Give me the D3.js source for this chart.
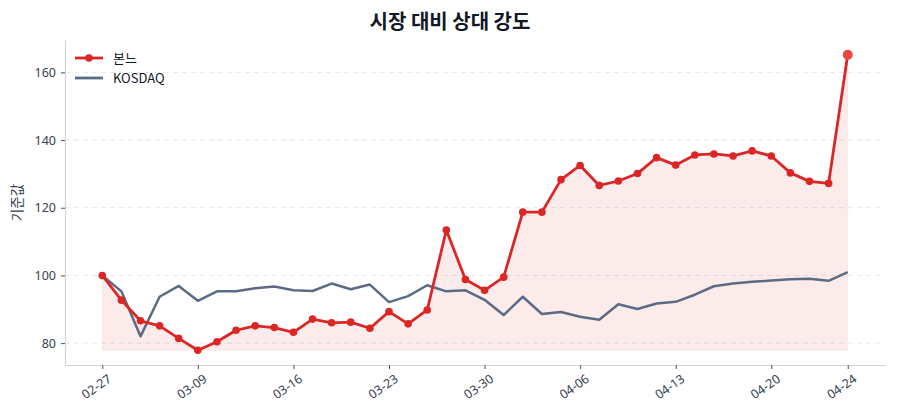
<!DOCTYPE html>
<html>
<head>
<meta charset="utf-8">
<script src="https://cdn.jsdelivr.net/npm/d3@7"></script>
<style>
  body { margin: 0; background: #fff; }
  svg { font-family: "Noto Sans CJK KR", "Noto Sans", sans-serif; }
</style>
</head>
<body>
<svg id="chart" width="900" height="420"></svg>
<script>
// trading days (MM-DD)
var dates = ["02-27","03-03","03-04","03-05","03-06","03-09","03-10","03-11","03-12","03-13",
  "03-16","03-17","03-18","03-19","03-20","03-23","03-24","03-25","03-26","03-27",
  "03-30","03-31","04-01","04-02","04-03","04-06","04-07","04-08","04-09","04-10",
  "04-13","04-14","04-15","04-16","04-17","04-20","04-21","04-22","04-23","04-24"];

var stockName = "본느";
var stockValues = [100, 92.7, 86.6, 85.1, 81.4, 77.9, 80.4, 83.8, 85.1, 84.6,
  83.2, 87.1, 86.0, 86.2, 84.4, 89.3, 85.7, 89.8, 113.4, 98.8,
  95.6, 99.5, 118.7, 118.7, 128.3, 132.5, 126.6, 127.9, 130.1, 134.8,
  132.6, 135.6, 135.9, 135.3, 136.8, 135.3, 130.3, 127.8, 127.2, 165.2];

var indexName = "KOSDAQ";
var indexValues = [100, 95.3, 82.0, 93.7, 96.9, 92.5, 95.3, 95.3, 96.2, 96.7,
  95.6, 95.4, 97.6, 95.9, 97.3, 92.1, 93.9, 97.1, 95.3, 95.6,
  92.8, 88.3, 93.7, 88.6, 89.2, 87.8, 86.9, 91.5, 90.1, 91.7,
  92.2, 94.3, 96.8, 97.6, 98.1, 98.5, 98.9, 99.0, 98.4, 101.0];

var yTicks = [80, 100, 120, 140, 160];

var svg = d3.select("#chart");
var margin = {left: 65, right: 15, top: 40, bottom: 55};
var width = +svg.attr("width") - margin.left - margin.right;
var height = +svg.attr("height") - margin.top - margin.bottom;
var g = svg.append("g").attr("transform", `translate(${margin.left}, ${margin.top})`);

var red = "#dc2626", slate = "#5b6b84", axisCol = "#d1d5db", textCol = "#374151";

var n = dates.length;
var padX = (n - 1) * 0.05;
var x = d3.scaleLinear().domain([-padX, n - 1 + padX]).range([0, width]);

var lo = d3.min(stockValues.concat(indexValues)), hi = d3.max(stockValues.concat(indexValues));
var padY = (hi - lo) * 0.05;
var y = d3.scaleLinear().domain([lo - padY, hi + padY]).range([height, 0]);

// grid
g.append("g").selectAll("line").data(yTicks).enter().append("line")
  .attr("x1", 0).attr("x2", width)
  .attr("y1", d => y(d)).attr("y2", d => y(d))
  .attr("stroke", "#e5e7eb").attr("stroke-dasharray", "5,4").attr("stroke-width", 1);

// fill under stock line
var baseVal = d3.min(stockValues);
var area = d3.area()
  .x((d, i) => x(i))
  .y0(y(baseVal))
  .y1(d => y(d));
g.append("path").datum(stockValues)
  .attr("d", area)
  .attr("fill", red).attr("fill-opacity", 0.09)
  .attr("stroke", red).attr("stroke-opacity", 0.06);

var line = d3.line().x((d, i) => x(i)).y(d => y(d));

g.append("path").datum(indexValues)
  .attr("d", line).attr("fill", "none")
  .attr("stroke", slate).attr("stroke-width", 2.5).attr("stroke-linejoin", "round");

g.append("path").datum(stockValues)
  .attr("d", line).attr("fill", "none")
  .attr("stroke", red).attr("stroke-width", 2.8).attr("stroke-linejoin", "round");

g.append("g").selectAll("circle").data(stockValues.slice(0, n - 1)).enter().append("circle")
  .attr("cx", (d, i) => x(i)).attr("cy", d => y(d)).attr("r", 3.8).attr("fill", red);

// last point highlighted
g.append("circle")
  .attr("cx", x(n - 1)).attr("cy", y(stockValues[n - 1]))
  .attr("r", 5).attr("fill", "#ef4444");

// axes
var xTickIdx = d3.range(0, n, 5);
if (xTickIdx[xTickIdx.length - 1] !== n - 1) xTickIdx.push(n - 1);

var xAxis = g.append("g").attr("transform", `translate(0, ${height})`)
  .call(d3.axisBottom(x).tickValues(xTickIdx).tickFormat(i => dates[i])
    .tickSize(4).tickSizeOuter(0).tickPadding(5));
xAxis.selectAll("text")
  .attr("text-anchor", "end")
  .attr("dx", "-0.1em").attr("dy", "0.75em")
  .attr("transform", "rotate(-35)");

var yAxis = g.append("g")
  .call(d3.axisLeft(y).tickValues(yTicks).tickSize(4).tickSizeOuter(0).tickPadding(5));

[xAxis, yAxis].forEach(a => {
  a.select(".domain").attr("stroke", axisCol).attr("stroke-width", 1.2);
  a.selectAll(".tick line").attr("stroke", "#4b5563");
  a.selectAll("text").attr("fill", textCol).attr("font-size", 12.5)
    .attr("font-family", "'Noto Sans', 'Noto Sans CJK KR', sans-serif");
});

// y label
svg.append("text")
  .attr("transform", `translate(22, ${margin.top + height / 2}) rotate(-90)`)
  .attr("text-anchor", "middle").attr("font-size", 13.5).attr("fill", textCol)
  .text("기준값");

// title
svg.append("text")
  .attr("x", 450).attr("y", 29)
  .attr("text-anchor", "middle").attr("font-size", 20).attr("font-weight", "bold")
  .attr("fill", "#111827")
  .text("시장 대비 상대 강도");

// legend
var legend = svg.append("g").attr("transform", "translate(75, 58)");
var items = [{name: stockName, color: red, dot: true}, {name: indexName, color: slate, dot: false}];
items.forEach((it, k) => {
  var row = legend.append("g").attr("transform", `translate(0, ${k * 20})`);
  row.append("line").attr("x1", 0).attr("x2", 28).attr("y1", 0).attr("y2", 0)
    .attr("stroke", it.color).attr("stroke-width", 2.8);
  if (it.dot) row.append("circle").attr("cx", 14).attr("cy", 0).attr("r", 3.8).attr("fill", it.color);
  row.append("text").attr("x", 38).attr("y", 0).attr("dy", "0.35em")
    .attr("font-size", 13).attr("fill", "#111827").text(it.name);
});
</script>
</body>
</html>
